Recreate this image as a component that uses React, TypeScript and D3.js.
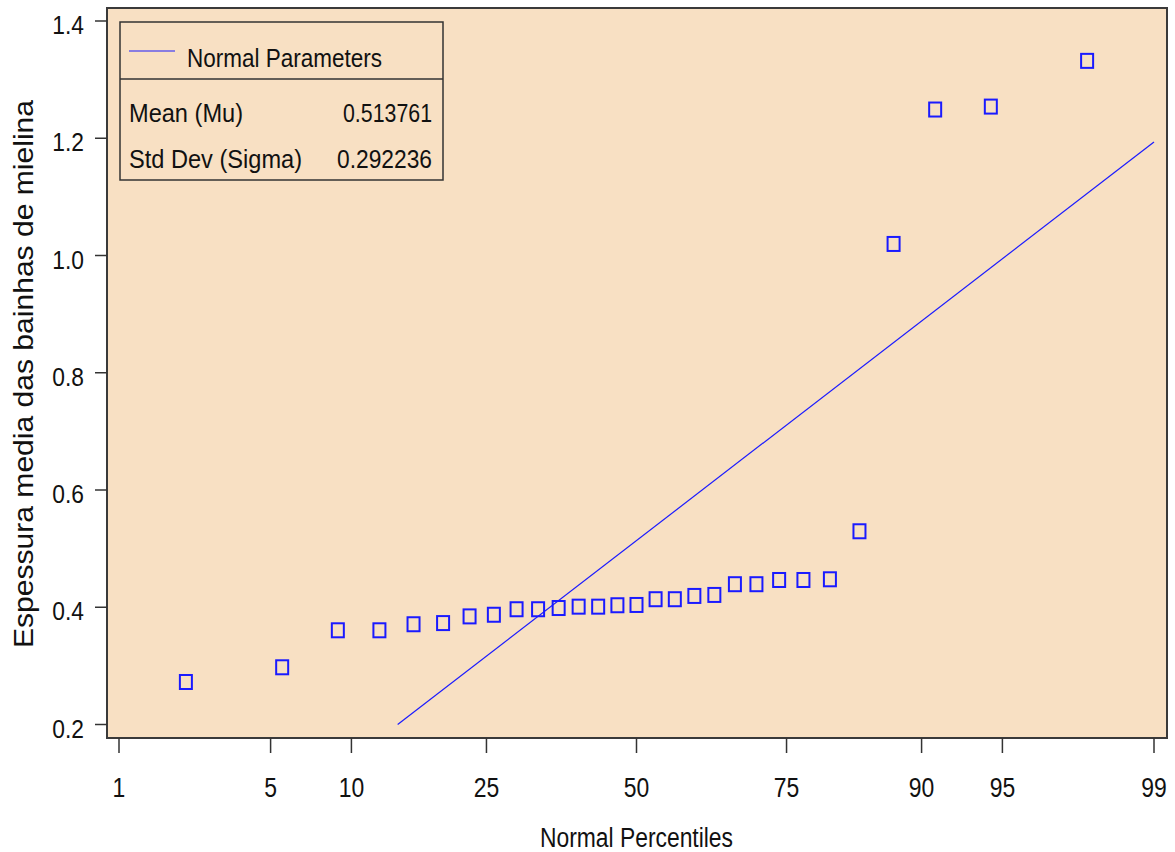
import React from "react";
import * as d3 from "d3";

// data (sorted sample, Blom plotting positions in %)
const percentiles = [
  2.14, 5.56, 8.97, 12.39, 15.81, 19.23, 22.65, 26.07, 29.49, 32.91,
  36.32, 39.74, 43.16, 46.58, 50.0, 53.42, 56.84, 60.26, 63.68, 67.09,
  70.51, 73.93, 77.35, 80.77, 84.19, 87.61, 91.03, 94.44, 97.86,
];
const thickness = [
  0.2725, 0.2976, 0.3607, 0.3607, 0.371, 0.373, 0.3844, 0.3872, 0.3966, 0.3966,
  0.3987, 0.401, 0.401, 0.4034, 0.4039, 0.4137, 0.4137, 0.4193, 0.421, 0.4393,
  0.4393, 0.4465, 0.4465, 0.4477, 0.5296, 1.0197, 1.249, 1.254, 1.332,
];
const xTicks = [1, 5, 10, 25, 50, 75, 90, 95, 99];
const yTicks = [0.2, 0.4, 0.6, 0.8, 1.0, 1.2, 1.4];
const mu = 0.513761;
const sigma = 0.292236;

// inverse normal cdf (Acklam)
function probit(p: number): number {
  const a = [-39.69683028665376, 220.9460984245205, -275.9285104469687, 138.357751867269, -30.66479806614716, 2.506628277459239];
  const b = [-54.47609879822406, 161.5858368580409, -155.6989798598866, 66.80131188771972, -13.28068155288572];
  const c = [-0.007784894002430293, -0.3223964580411365, -2.400758277161838, -2.549732539343734, 4.374664141464968, 2.938163982698783];
  const d = [0.007784695709041462, 0.3224671290700398, 2.445134137142996, 3.754408145901090];
  const plow = 0.02425;
  if (p < plow) {
    const q = Math.sqrt(-2 * Math.log(p));
    return (((((c[0] * q + c[1]) * q + c[2]) * q + c[3]) * q + c[4]) * q + c[5]) /
      ((((d[0] * q + d[1]) * q + d[2]) * q + d[3]) * q + 1);
  }
  if (p <= 1 - plow) {
    const q = p - 0.5;
    const r = q * q;
    return (((((a[0] * r + a[1]) * r + a[2]) * r + a[3]) * r + a[4]) * r + a[5]) * q /
      (((((b[0] * r + b[1]) * r + b[2]) * r + b[3]) * r + b[4]) * r + 1);
  }
  const q = Math.sqrt(-2 * Math.log(1 - p));
  return -(((((c[0] * q + c[1]) * q + c[2]) * q + c[3]) * q + c[4]) * q + c[5]) /
    ((((d[0] * q + d[1]) * q + d[2]) * q + d[3]) * q + 1);
}

const W = 1175;
const H = 852;
const frame = { left: 107, top: 8, right: 1167, bottom: 738 };
const font = "'Liberation Sans', Arial, sans-serif";
const blue = "#1a1aff";

export default function App() {
  const z = d3.scaleLinear().domain([probit(0.01), probit(0.99)]).range([119, 1154]);
  const xp = (p: number) => z(probit(p / 100));
  const y = d3.scaleLinear().domain([0.2, 1.4]).range([724.5, 21]);

  // reference line mu + sigma*z, clipped to the y-axis minimum
  const zStart = (0.2 - mu) / sigma;
  const zEnd = probit(0.99);
  const line = d3.line<number>()
    .x(q => z(q))
    .y(q => y(mu + sigma * q));

  return (
    <svg width={W} height={H} style={{ position: "absolute", left: 0, top: 0, background: "#fff" }}>
      <rect x={frame.left} y={frame.top} width={frame.right - frame.left} height={frame.bottom - frame.top}
        fill="#f8e0c3" stroke="#3a3a3a" strokeWidth={2} />

      {/* y axis */}
      {yTicks.map(t => (
        <g key={t}>
          <line x1={95} x2={frame.left} y1={y(t)} y2={y(t)} stroke="#333" strokeWidth={1.5} />
          <text transform={`translate(84, ${y(t) + 13}) scale(0.95, 1.05)`} textAnchor="end"
            fontFamily={font} fontSize={24} fill="#111">
            {t.toFixed(1)}
          </text>
        </g>
      ))}
      <text transform={`translate(33, 374) rotate(-90)`} textAnchor="middle" fontFamily={font}
        fontSize={28} fill="#111" textLength={548} lengthAdjust="spacingAndGlyphs">
        Espessura media das bainhas de mielina
      </text>

      {/* x axis */}
      {xTicks.map(t => (
        <g key={t}>
          <line x1={xp(t)} x2={xp(t)} y1={frame.bottom} y2={753} stroke="#333" strokeWidth={1.5} />
          <text transform={`translate(${xp(t)}, 797) scale(0.85, 1)`} textAnchor="middle"
            fontFamily={font} fontSize={27} fill="#111">
            {t}
          </text>
        </g>
      ))}
      <text x={636.5} y={847} textAnchor="middle" fontFamily={font} fontSize={27} fill="#111"
        textLength={193} lengthAdjust="spacingAndGlyphs">
        Normal Percentiles
      </text>

      {/* normal reference line */}
      <path d={line([zStart, zEnd]) ?? ""} fill="none" stroke={blue} strokeWidth={1.2} />

      {/* data points */}
      {thickness.map((v, i) => (
        <rect key={i} x={xp(percentiles[i]) - 6} y={y(v) - 7} width={12} height={14}
          fill="none" stroke={blue} strokeWidth={2} />
      ))}

      {/* legend */}
      <g fontFamily={font} fill="#111">
        <rect x={120} y={22} width={323} height={158} fill="none" stroke="#333" strokeWidth={1.5} />
        <line x1={120} x2={443} y1={79} y2={79} stroke="#333" strokeWidth={1.5} />
        <line x1={129} x2={175} y1={51} y2={51} stroke={blue} strokeWidth={1.2} />
        <text x={187} y={67} fontSize={26} textLength={195} lengthAdjust="spacingAndGlyphs">Normal Parameters</text>
        <text x={129} y={122} fontSize={26} textLength={114} lengthAdjust="spacingAndGlyphs">Mean (Mu)</text>
        <text x={432} y={122} fontSize={26} textAnchor="end" textLength={89} lengthAdjust="spacingAndGlyphs">
          {mu.toFixed(6)}
        </text>
        <text x={129} y={168} fontSize={26} textLength={173} lengthAdjust="spacingAndGlyphs">Std Dev (Sigma)</text>
        <text x={432} y={168} fontSize={26} textAnchor="end" textLength={95} lengthAdjust="spacingAndGlyphs">
          {sigma.toFixed(6)}
        </text>
      </g>
    </svg>
  );
}
